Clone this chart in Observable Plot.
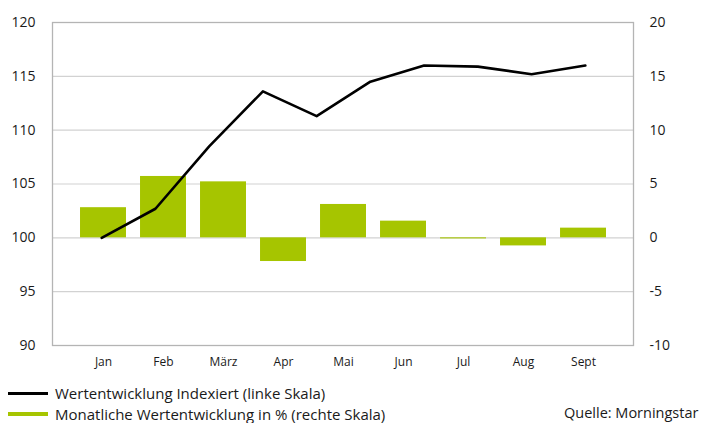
<!DOCTYPE html>
<html><head><meta charset="utf-8">
<script src="https://cdn.jsdelivr.net/npm/d3@7"></script>
<script src="https://cdn.jsdelivr.net/npm/@observablehq/plot@0.6"></script>
<style>
body{margin:0;background:#fff;font-family:"Open Sans",sans-serif;color:#1a1a1a;}
#wrap{position:relative;width:702px;height:423px;overflow:hidden;}
#chart{position:absolute;left:0;top:0;}
.row{position:absolute;left:0;height:22px;display:flex;align-items:center;font-size:15px;white-space:nowrap;}
.sw{display:inline-block;width:40px;margin-left:8px;margin-right:7px;}
#cap{position:absolute;left:564px;top:403px;font-size:14.5px;white-space:nowrap;}
</style></head><body>
<div id="wrap"><div id="chart"></div>
<div class="row" style="top:382px"><span class="sw" style="height:3px;background:#000"></span>Wertentwicklung Indexiert (linke Skala)</div>
<div class="row" style="top:403px"><span class="sw" style="height:4px;background:#a6c500"></span>Monatliche Wertentwicklung in % (rechte Skala)</div>
<div id="cap">Quelle: Morningstar</div>
</div>
<script>
const months = ["Jan","Feb","März","Apr","Mai","Jun","Jul","Aug","Sept"];
const monthlyPct = [2.8, 5.7, 5.2, -2.2, 3.1, 1.55, -0.1, -0.75, 0.9];
const indexValues = [100, 102.7, 108.5, 113.6, 111.3, 114.5, 116.0, 115.9, 115.2, 116.0];
const leftTicks = [90, 95, 100, 105, 110, 115, 120];
const rightTicks = [-10, -5, 0, 5, 10, 15, 20];
const offset = 100; // right scale value r is drawn at left value r + 100

const bars = months.map((m, i) => ({i, v: monthlyPct[i]}));
const line = indexValues.map((v, i) => ({x: -0.03 + i * 8.06 / 9, v}));
const halfBar = 0.383;

const chart = Plot.plot({
  width: 702, height: 372,
  marginLeft: 52, marginRight: 69, marginTop: 22, marginBottom: 27,
  style: {fontFamily: "'Open Sans', sans-serif", fontSize: "14px", color: "#1a1a1a", background: "#fff"},
  x: {type: "linear", domain: [-0.85, 8.833]},
  y: {domain: [90, 120]},
  marks: [
    Plot.ruleY(leftTicks.filter(d => d > 90 && d < 120), {stroke: "#d2d2d2", strokeWidth: 1.2}),
    Plot.frame({stroke: "#b4b4b4", strokeWidth: 1.3}),
    Plot.rectY(bars, {x1: d => d.i - halfBar, x2: d => d.i + halfBar, y1: offset, y2: d => offset + d.v, fill: "#a6c500"}),
    Plot.line(line, {x: "x", y: "v", stroke: "#000", strokeWidth: 2.6}),
    Plot.axisY(leftTicks, {anchor: "left", tickSize: 0, tickPadding: 17, fontSize: 14, label: null}),
    Plot.axisY(rightTicks.map(d => d + offset), {anchor: "right", tickSize: 0, tickPadding: 16, fontSize: 14, label: null, tickFormat: d => String(d - offset)}),
    Plot.axisX(months.map((m, i) => i), {anchor: "bottom", tickSize: 0, tickPadding: 12, fontSize: 12, label: null, tickFormat: i => months[i]})
  ]
});
document.getElementById("chart").appendChild(chart);
</script>
</body></html>
